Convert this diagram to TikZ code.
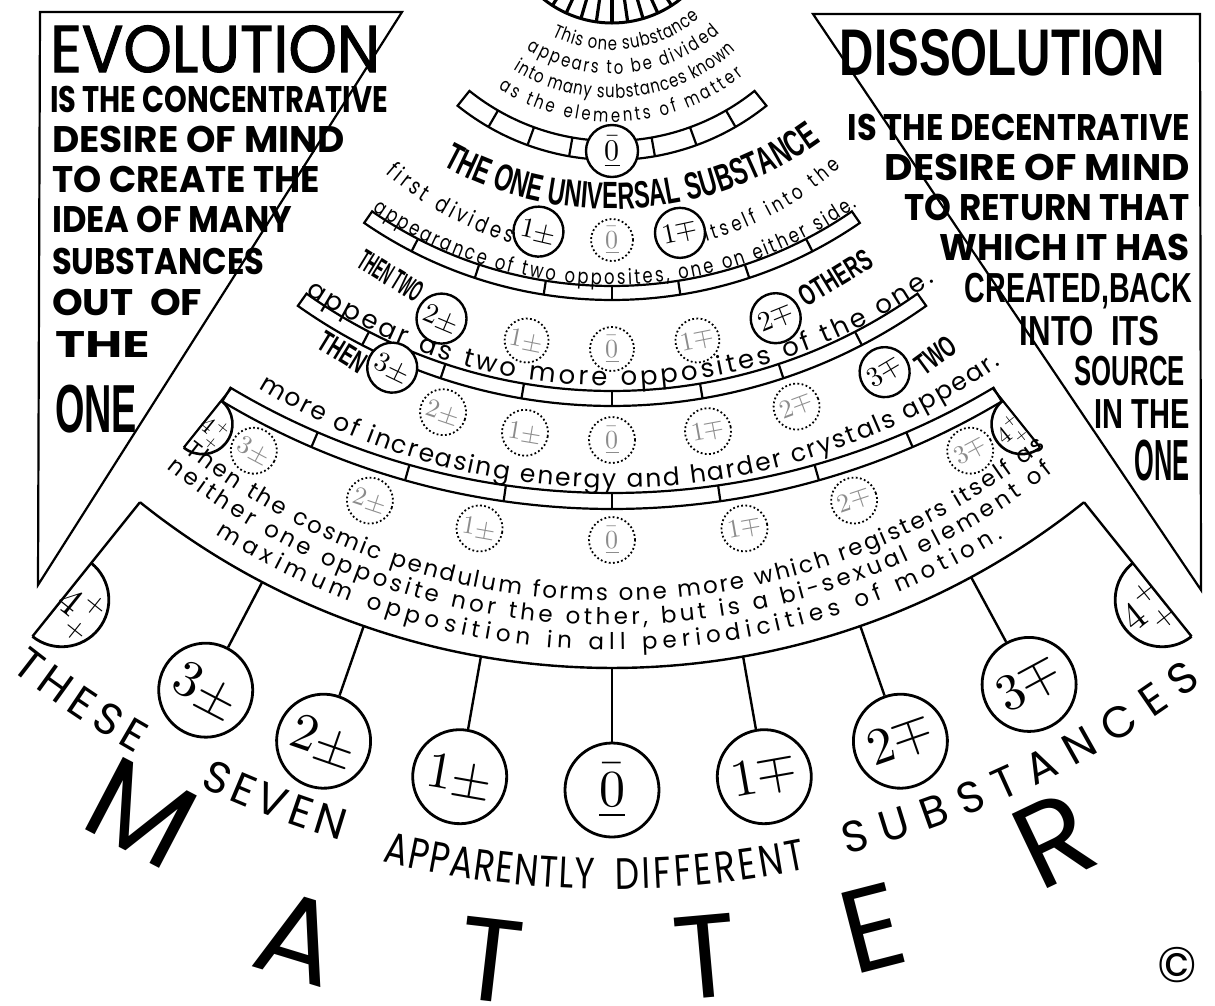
\documentclass[tikz,border=0pt]{standalone}
\usepackage{graphicx}
\usepackage{amsmath}
\usepackage{unicode-math}
\setmathfont{Latin Modern Math}
\usetikzlibrary{decorations.text}
\newfontfamily\geo{Poppins}
\newfontfamily\geon[FakeStretch=0.78]{Poppins}
\newfontfamily\geom[FakeBold=1.6]{Poppins}
\newfontfamily\cond[FakeStretch=0.62]{Liberation Sans}
\newcommand{\fitw}[2]{\resizebox{#1}{\height}{#2}}
\newcommand{\pmn}[1]{$#1\pm$}
\newcommand{\mpn}[1]{$#1\mp$}
\newcommand{\zr}{$\underline{\bar{0}}$}
\newcommand{\ffr}{$4\genfrac{}{}{0pt}{}{+}{+}$}
% band of cells between two radii of the fan
\newcommand{\fanband}[3]{%
  \draw[band] (\ax-#3:#1pt) arc[start angle=\ax-#3, end angle=\ax+#3, radius=#1pt]
    -- (\ax+#3:#2pt) arc[start angle=\ax+#3, end angle=\ax-#3, radius=#2pt] -- cycle;}
% the same, flatter: lift of its centre, radii, half angle, dividers
\newcommand{\fanbandl}[5]{%
  \begin{scope}[shift={(90:#1pt)}]
    \fanband{#2}{#3}{#4}
    \foreach \d in {#5} \draw[band] (\ax+\d:#2pt) -- (\ax+\d:#3pt);
  \end{scope}}
% text round the fan centre: radius, from, to, font, text
\newcommand{\arctext}[5]{%
  \path[decorate, decoration={text along path, text align=fit to path,
    text={|#4|#5}}] (\ax+#2:#1pt) arc[start angle=\ax+#2, end angle=\ax+#3, radius=#1pt];}
% the same round a centre lifted by #1
\newcommand{\arctextl}[6]{%
  \path[shift={(90:#1pt)}, decorate, decoration={text along path, text align=fit to path,
    text={|#5|#6}}] (\ax+#3:#2pt) arc[start angle=\ax+#3, end angle=\ax+#4, radius=#2pt];}
\begin{document}
\begin{tikzpicture}[x=1pt, y=-1pt,
  frame/.style={draw, line width=2.2pt, line join=miter},
  lbox/.style={anchor=base west, inner sep=0pt},
  rbox/.style={anchor=base east, inner sep=0pt},
  geob/.style={font=\geo\bfseries\fontsize{#1}{#1}\selectfont},
  condb/.style={font=\cond\bfseries\fontsize{#1}{#1}\selectfont},
  band/.style={draw, line width=2.2pt},
  solidc/.style={circle, draw, line width=2.4pt, fill=white, minimum size=50pt,
                 inner sep=0pt, font=\fontsize{28}{28}\selectfont},
  ghostc/.style={circle, draw, line width=1.8pt, dash pattern=on 1.8pt off 2.4pt,
                 fill=white, minimum size=46pt, inner sep=0pt, text=black!45,
                 font=\fontsize{26}{26}\selectfont},
  bigc/.style={circle, draw, line width=2.8pt, fill=white, minimum size=94pt,
               inner sep=0pt, font=\fontsize{52}{52}\selectfont},
  halfc/.style={draw, line width=2.6pt},
  ray/.style={line width=3.2pt},
  bigletter/.style={inner sep=0pt, font=\geo\fontsize{118}{118}\selectfont},
]
\fill[white] (0,0) rectangle (1215,1005);
\useasboundingbox (0,0) rectangle (1215,1005);
\def\ax{270}
% the two side panels
\draw[frame] (40,12) -- (402,12) -- (38,585) -- cycle;
\draw[frame] (813,14) -- (1200,14) -- (1201,590) -- cycle;
\node[lbox, font=\geom\fontsize{66}{66}\selectfont] (evo) at (50,72) {\fitw{330pt}{EVOLUTION}};
\node[lbox, geob=37] (ev1) at (50,112) {\fitw{338pt}{IS THE CONCENTRATIVE}};
\node[lbox, geob=37] (ev2) at (52,152) {\fitw{293pt}{DESIRE OF MIND}};
\node[lbox, geob=37] (ev3) at (52,192) {\fitw{268pt}{TO CREATE THE}};
\node[lbox, geob=37] (ev4) at (52,232) {\fitw{240pt}{IDEA OF MANY}};
\node[lbox, geob=37] (ev5) at (52,274) {\fitw{212pt}{SUBSTANCES}};
\node[lbox, geob=37] (ev6) at (52,315) {\fitw{150pt}{OUT\ \ OF}};
\node[lbox, geob=37] (ev7) at (55,357) {\fitw{95pt}{THE}};
\node[lbox, condb=68] (ev8) at (55,432) {\fitw{82pt}{ONE}};
\node[rbox, condb=66] (dis) at (1165,75) {\fitw{325pt}{DISSOLUTION}};
\node[rbox, geob=37] (ds1) at (1190,140) {\fitw{342pt}{IS THE DECENTRATIVE}};
\node[rbox, geob=37] (ds2) at (1190,180) {\fitw{305pt}{DESIRE OF MIND}};
\node[rbox, geob=37] (ds3) at (1190,220) {\fitw{285pt}{TO RETURN THAT}};
\node[rbox, geob=37] (ds4) at (1190,260) {\fitw{250pt}{WHICH IT HAS}};
\node[rbox, condb=42] (ds5) at (1192,302) {\fitw{227pt}{CREATED,BACK}};
\node[rbox, condb=42] (ds6) at (1160,345) {\fitw{140pt}{INTO\ \ ITS}};
\node[rbox, condb=42] (ds7) at (1185,385) {\fitw{110pt}{SOURCE}};
\node[rbox, condb=42] (ds8) at (1190,428) {\fitw{95pt}{IN THE}};
\node[rbox, condb=58] (ds9) at (1190,480) {\fitw{55pt}{ONE}};
\node[font=\geo\fontsize{50}{50}\selectfont] (copy) at (1177,965) {\textcopyright};
% the fan, round its centre above the page
\begin{scope}
\clip (0,0) rectangle (1215,1005);
\begin{scope}[shift={(612,-87)}]
\foreach \k in {-5,...,5} \draw[ray] (\ax+8.2*\k:60pt) -- (\ax+8.2*\k:109pt);
\draw[line width=3pt] (\ax-45:110pt) arc[start angle=\ax-45, end angle=\ax+45, radius=110pt];
\arctext{137}{-26}{40}{\geon\fontsize{19}{19}\selectfont}{This one substance}
\arctext{161}{-32}{42}{\geon\fontsize{19}{19}\selectfont}{appears to be divided}
\arctext{185}{-32}{42}{\geon\fontsize{19}{19}\selectfont}{into many substances known}
\arctext{209}{-33}{39}{\geon\fontsize{19}{19}\selectfont}{as the elements of matter}
% bands of cells
\fanband{228}{247}{38.7}
\foreach \k in {-3,-2,-1,1,2,3} \draw[band] (\ax+10*\k:228pt) -- (\ax+10*\k:247pt);
\fanbandl{50}{423}{437}{34.55}{-27.3,-18.3,-9,0,9,18.3,27.3}
\fanbandl{50}{528}{543}{35.35}{-27.4,-18.4,-9.6,0,9.6,18.4,27.4}
\fanbandl{164}{744}{760}{30.85}{-23.3,-15.8,-8.2,0,8.2,15.8,23.3}
\node[solidc, minimum size=52pt, font=\fontsize{30}{30}\selectfont, rotate=\ax+90] (z1) at (\ax:238pt) {\zr};
\arctextl{60}{356}{-28.5}{35}{\cond\bfseries\fontsize{38}{38}\selectfont}{THE ONE UNIVERSAL SUBSTANCE}
% first division
\arctext{345}{-41}{-17}{\geon\fontsize{23}{23}\selectfont}{first divides}
\arctext{342}{16}{42}{\geon\fontsize{21}{21}\selectfont}{itself into the}
\node[solidc, rotate=\ax+77] (a1) at (\ax-13:327pt) {\pmn{1}};
\node[ghostc, minimum size=42pt, rotate=\ax+90] (a0) at (\ax:327pt) {\zr};
\node[solidc, rotate=\ax+102] (a2) at (\ax+12:327pt) {\mpn{1}};
\arctextl{50}{422}{-34.5}{35.5}{\geon\fontsize{21}{21}\selectfont}{appearance of two opposites, one on either side.}
% second division
\node[condb=30, rotate=\ax+90-31.4] (then2) at (\ax-31.4:425pt) {\fitw{70pt}{THEN TWO}};
\node[condb=30, rotate=\ax+90+31.5] (others) at (\ax+31.5:428pt) {\fitw{80pt}{OTHERS}};
\node[solidc, rotate=\ax+90-22.8] (b1) at (\ax-22.8:440pt) {\pmn{2}};
\node[solidc, rotate=\ax+90+22] (b5) at (\ax+22:437pt) {\mpn{2}};
\foreach \k/\lab [count=\i] in {-1/\pmn{1},0/\zr,1/\mpn{1}}
  \node[ghostc, minimum size=44pt, rotate=\ax+90+11.3*\k] (bg\i) at (\ax+11.3*\k:436pt) {\lab};
\arctextl{80}{553}{-33.7}{35.7}{\geo\fontsize{26}{26}\selectfont}{appear as two more opposites of the one.}
% third division
\node[condb=30, rotate=\ax+90-31.5] (then3) at (\ax-31.5:515pt) {THEN};
\node[condb=30, rotate=\ax+90+36.2] (two3) at (\ax+36.2:548pt) {TWO};
\node[solidc, rotate=\ax+90-25.8] (c1) at (\ax-25.8:505pt) {\pmn{3}};
\node[solidc, rotate=\ax+90+30.7] (c7) at (\ax+30.7:534pt) {\mpn{3}};
\foreach \a/\lab [count=\i] in {-18.7/\pmn{2},-9.5/\pmn{1},0/\zr,10.5/\mpn{1},20.5/\mpn{2}}
  \node[ghostc, rotate=\ax+90+\a] (cg\i) at (\ax+\a:527pt) {\lab};
\arctextl{100}{675}{-31.6}{35.1}{\geo\fontsize{25}{25}\selectfont}{more of increasing energy and harder crystals appear.}
% fourth division, the half circles on the edges
\foreach \s in {-1,1} {
  \draw[band] (\ax+38.7*\s:609pt) -- (\ax+38.7*\s:685pt);
  \begin{scope}[shift={(\ax+38.7*\s:655pt)}, rotate=\ax+38.7*\s]
    \draw[halfc] (-30pt,0pt) arc[start angle=180, end angle=180+180*\s, radius=30pt];
    \node[inner sep=0pt, font=\fontsize{24}{24}\selectfont, rotate=\ax+38.7*\s+90] (d\s) at (0pt,-13*\s pt) {\ffr};
  \end{scope}
}
\begin{scope}[shift={(90:136pt)}]
\foreach \a/\lab [count=\i] in {-28/\pmn{3},-18.5/\pmn{2},-10/\pmn{1},0/\zr,10/\mpn{1},18.5/\mpn{2},28/\mpn{3}}
  \node[ghostc, rotate=\ax+90+\a] (eg\i) at (\ax+\a:763pt) {\lab};
\end{scope}
\arctext{688}{-38.4}{39}{\geo\fontsize{23}{23}\selectfont}{Then the cosmic pendulum forms one more which registers itself as}
\arctext{712}{-38.7}{38.2}{\geo\fontsize{23}{23}\selectfont}{neither one opposite nor the other, but is a bi-sexual element of}
\arctext{737}{-32.5}{32}{\geo\fontsize{23}{23}\selectfont}{maximum opposition in all periodicities of motion.}
\draw[band, line width=2.4pt] (\ax-38.7:755pt) arc[start angle=\ax-38.7, end angle=\ax+38.7, radius=755pt];
% the seven substances
\foreach \s in {-1,1} {
  \draw[band, line width=2.4pt] (\ax+38.7*\s:755pt) -- (\ax+38.7*\s:927pt);
  \begin{scope}[shift={(\ax+38.7*\s:880pt)}, rotate=\ax+38.7*\s]
    \draw[halfc, line width=2.8pt] (-47pt,0pt) arc[start angle=180, end angle=180+180*\s, radius=47pt];
    \node[inner sep=0pt, font=\fontsize{40}{40}\selectfont, rotate=\ax+38.7*\s+90] (h\s) at (0pt,-20*\s pt) {\ffr};
  \end{scope}
}
\foreach \a/\lab [count=\i] in {-27.6/\pmn{3},-19.2/\pmn{2},-10/\pmn{1},0/\zr,10/\mpn{1},19.2/\mpn{2},28.4/\mpn{3}} {
  \node[bigc, rotate=\ax+90+\a] (bot\i) at (\ax+\a:877pt) {\lab};
  \coordinate (stem\i) at (\ax+\a:755pt);
  \draw[line width=2.4pt] (stem\i) -- (bot\i);
}
\arctext{966}{-38.5}{-29.5}{\geo\fontsize{44}{44}\selectfont}{THESE}
\arctext{966}{-25.3}{-16.3}{\geo\fontsize{44}{44}\selectfont}{SEVEN}
\arctext{976}{-13.6}{-1}{\geon\fontsize{44}{44}\selectfont}{APPARENTLY}
\arctext{976}{0.2}{11.5}{\geon\fontsize{44}{44}\selectfont}{DIFFERENT}
\arctext{970}{14}{37.5}{\geo\fontsize{44}{44}\selectfont}{SUBSTANCES}
\foreach \a/\rd/\ch [count=\i] in {-27.6/1016/M,-17/1072/A,-6.6/1054/T,5.1/1048/T,14.4/1048/E,25.5/1027/R}
  \node[bigletter, rotate=\ax+90+\a] (mt\i) at (\ax+\a:\rd pt) {\ch};
\end{scope}
\end{scope}
\end{tikzpicture}
\end{document}
